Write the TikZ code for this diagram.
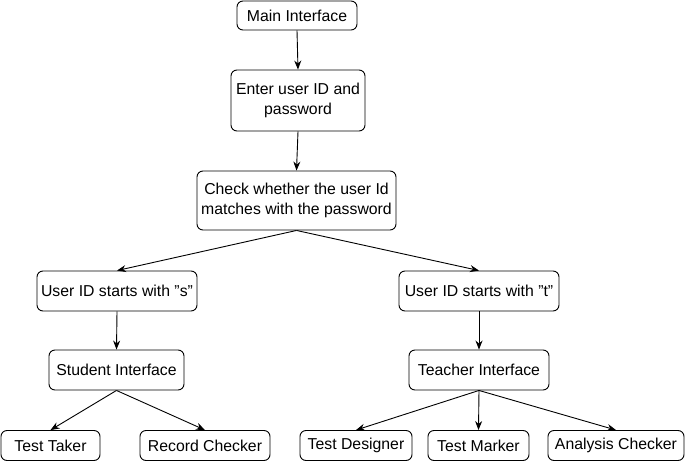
\documentclass[tikz,border=0pt]{standalone}
\usepackage{fontspec}
\setmainfont[Ligatures=NoCommon]{Liberation Sans}
\usetikzlibrary{arrows.meta}
\newcommand{\dq}{{\char34}}
\begin{document}
\begin{tikzpicture}[x=1pt,y=-1pt,
  box/.style={draw=black,line width=0.9pt,rounded corners=6pt,align=center,inner sep=0pt,
    font=\fontsize{15.8}{20}\selectfont},
  arr/.style={draw=black,line width=0.9pt,-{Stealth[length=9pt,width=7pt]}}]
\useasboundingbox (0,0) rectangle (686,461);
\node[box,minimum width=120pt,minimum height=29pt] (main) at (297,15.5) {Main Interface};
\node[box,minimum width=134pt,minimum height=61pt] (enter) at (298,100.5) {Enter user ID and\\password};
\node[box,minimum width=199pt,minimum height=59pt] (check) at (296.5,200.5) {Check whether the user Id\\matches with the password};
\node[box,minimum width=160pt,minimum height=40pt] (s) at (117,291) {User ID starts with \dq s\dq};
\node[box,minimum width=160pt,minimum height=40pt] (t) at (479,291) {User ID starts with \dq t\dq};
\node[box,minimum width=135pt,minimum height=40pt] (student) at (116.5,370) {Student Interface};
\node[box,minimum width=140pt,minimum height=40pt] (teacher) at (479,370) {Teacher Interface};
\node[box,minimum width=99pt,minimum height=30pt] (taker) at (50.5,445.5) {Test Taker};
\node[box,minimum width=130pt,minimum height=30pt] (record) at (205,445.5) {Record Checker};
\node[box,minimum width=112pt,minimum height=30pt] (designer) at (356,445.5) {Test Designer};
\node[box,minimum width=101pt,minimum height=30pt] (marker) at (478.5,445.5) {Test Marker};
\node[box,minimum width=136pt,minimum height=30pt] (analysis) at (616,445.5) {Analysis Checker};
\draw[arr] (main.south) -- (enter.north);
\draw[arr] (enter.south) -- (check.north);
\draw[arr] (check.south) -- (s.north);
\draw[arr] (check.south) -- (t.north);
\draw[arr] (s.south) -- (student.north);
\draw[arr] (t.south) -- (teacher.north);
\draw[arr] (student.south) -- (taker.north);
\draw[arr] (student.south) -- (record.north);
\draw[arr] (teacher.south) -- (designer.north);
\draw[arr] (teacher.south) -- (marker.north);
\draw[arr] (teacher.south) -- (analysis.north);
\end{tikzpicture}
\end{document}
